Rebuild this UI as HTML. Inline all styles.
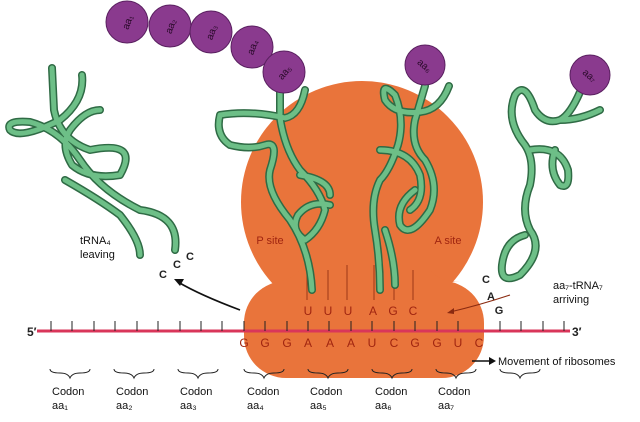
<!DOCTYPE html>
<html><head><style>
html,body{margin:0;padding:0;background:#fff;}
svg{display:block;font-family:"Liberation Sans",sans-serif;}
</style></head><body>
<svg width="640" height="422" viewBox="0 0 640 422" xmlns="http://www.w3.org/2000/svg">
<!-- ribosome -->
<g fill="#e9743b">
<circle cx="362" cy="202" r="121"/>
<rect x="244" y="281" width="240" height="97" rx="42" ry="42"/>
<path d="M270 282 Q290 282 300 270 L430 270 Q440 282 460 282 Z"/>
</g>
<!-- mRNA -->
<line x1="37" y1="331" x2="570" y2="331" stroke="#d9365a" stroke-width="3"/>
<g stroke="#222" stroke-width="1">
<path d="M51 331v-10M72 331v-10M94 331v-10M115 331v-10M137 331v-10M158 331v-10M180 331v-10M201 331v-10M222 331v-10M244 331v-10M265 331v-10M287 331v-10M308 331v-10M329 331v-10M351 331v-10M372 331v-10M394 331v-10M415 331v-10M437 331v-10M458 331v-10"/>
<path d="M500 331v-10M521 331v-10M543 331v-10M564 331v-10" />
</g>
<text x="27" y="336" font-size="12" font-weight="bold" fill="#222">5′</text>
<text x="572" y="336" font-size="12" font-weight="bold" fill="#222">3′</text>
<g stroke="#8a2a10" stroke-width="0.8">
<path d="M307 300v-30M328 300v-30M347 300v-35M374 300v-35M394 300v-30M413 300v-30"/>
</g>
<g font-size="12" fill="#a02510" text-anchor="middle">
<text x="308" y="315">U</text><text x="328" y="315">U</text><text x="348" y="315">U</text>
<text x="373" y="315">A</text><text x="393" y="315">G</text><text x="413" y="315">C</text>
<text x="244" y="347">G</text><text x="265" y="347">G</text><text x="287" y="347">G</text>
<text x="308" y="347">A</text><text x="330" y="347">A</text><text x="351" y="347">A</text>
<text x="372" y="347">U</text><text x="394" y="347">C</text><text x="415" y="347">G</text>
<text x="437" y="347">G</text><text x="458" y="347">U</text><text x="479" y="347">C</text>
<text x="270" y="244" font-size="11">P site</text>
<text x="448" y="244" font-size="11">A site</text>
</g>
<!-- tRNAs -->
<g fill="none" stroke-linecap="round" stroke-linejoin="round">
<g stroke="#2f6b45" stroke-width="8">
<path d="M52 68 L54 110 Q60 140 90 150 Q140 140 120 175 Q90 180 72 165 Q60 145 70 130 Q85 110 100 110 M82 75 Q85 100 60 120 Q20 140 10 130 Q5 120 30 122 Q60 130 80 160 Q100 190 140 210 Q180 215 175 250 M65 180 Q100 200 120 215 Q140 240 140 255"/>
<path d="M280 90 L280 118 Q285 150 300 170 Q320 190 325 210 Q320 230 305 240 Q290 230 298 215 Q310 200 330 205 M305 90 Q300 115 285 118 Q250 110 220 115 Q215 135 230 145 Q250 150 265 145 Q280 140 270 170 Q265 190 290 220 Q310 250 312 290 M300 175 Q330 180 330 195"/>
<path d="M425 86 L415 120 Q410 145 425 160 Q440 185 430 210 Q410 240 400 225 Q395 205 415 190 M449 86 Q440 110 420 112 Q395 115 385 100 Q380 80 395 95 Q405 120 398 145 Q390 170 380 180 Q370 200 375 230 Q380 260 380 290 M380 150 Q410 150 420 175 Q425 200 410 210 M385 230 Q395 260 395 285"/>
<path d="M580 92 Q570 115 560 120 Q545 125 535 110 Q525 80 515 95 Q505 120 525 145 Q535 160 530 185 Q520 210 530 230 Q545 250 520 275 Q500 285 502 265 Q505 240 525 235 M600 110 Q580 120 560 120 M530 150 Q560 145 568 170 Q570 190 560 185 Q548 170 555 150"/>
</g>
<g stroke="#6dbf87" stroke-width="5">
<path d="M52 68 L54 110 Q60 140 90 150 Q140 140 120 175 Q90 180 72 165 Q60 145 70 130 Q85 110 100 110 M82 75 Q85 100 60 120 Q20 140 10 130 Q5 120 30 122 Q60 130 80 160 Q100 190 140 210 Q180 215 175 250 M65 180 Q100 200 120 215 Q140 240 140 255"/>
<path d="M280 90 L280 118 Q285 150 300 170 Q320 190 325 210 Q320 230 305 240 Q290 230 298 215 Q310 200 330 205 M305 90 Q300 115 285 118 Q250 110 220 115 Q215 135 230 145 Q250 150 265 145 Q280 140 270 170 Q265 190 290 220 Q310 250 312 290 M300 175 Q330 180 330 195"/>
<path d="M425 86 L415 120 Q410 145 425 160 Q440 185 430 210 Q410 240 400 225 Q395 205 415 190 M449 86 Q440 110 420 112 Q395 115 385 100 Q380 80 395 95 Q405 120 398 145 Q390 170 380 180 Q370 200 375 230 Q380 260 380 290 M380 150 Q410 150 420 175 Q425 200 410 210 M385 230 Q395 260 395 285"/>
<path d="M580 92 Q570 115 560 120 Q545 125 535 110 Q525 80 515 95 Q505 120 525 145 Q535 160 530 185 Q520 210 530 230 Q545 250 520 275 Q500 285 502 265 Q505 240 525 235 M600 110 Q580 120 560 120 M530 150 Q560 145 568 170 Q570 190 560 185 Q548 170 555 150"/>
</g>
</g>
<!-- amino acids -->
<g fill="#8a3a8e" stroke="#5a2060" stroke-width="1">
<circle cx="127" cy="22" r="21"/><circle cx="170" cy="26" r="21"/><circle cx="211" cy="32" r="21"/>
<circle cx="252" cy="47" r="21"/><circle cx="284" cy="72" r="21"/><circle cx="425" cy="65" r="20"/><circle cx="590" cy="75" r="20"/>
</g>
<g font-size="10" fill="#2a0a2a" text-anchor="middle">
<text x="127" y="26" transform="rotate(-70 127 22)">aa₁</text>
<text x="170" y="30" transform="rotate(-70 170 26)">aa₂</text>
<text x="211" y="36" transform="rotate(-70 211 32)">aa₃</text>
<text x="252" y="51" transform="rotate(-70 252 47)">aa₄</text>
<text x="284" y="76" transform="rotate(-50 284 72)">aa₅</text>
<text x="425" y="69" transform="rotate(40 425 65)">aa₆</text>
<text x="590" y="79" transform="rotate(40 590 75)">aa₇</text>
</g>
<g font-size="11" font-weight="bold" fill="#222" text-anchor="middle">
<text x="163" y="278">C</text><text x="177" y="268">C</text><text x="190" y="260">C</text>
<text x="486" y="283">C</text><text x="491" y="300">A</text><text x="499" y="314">G</text>
</g>
<path d="M240 310 Q200 295 178 282" fill="none" stroke="#111" stroke-width="1.6"/>
<path d="M174 279 l10 0 l-4 7 z" fill="#111"/>
<path d="M510 295 Q480 305 450 312" fill="none" stroke="#8a2a10" stroke-width="1"/>
<path d="M447 313 l7 -5 l0 6 z" fill="#8a2a10"/>
<line x1="472" y1="361" x2="492" y2="361" stroke="#111" stroke-width="1.5"/>
<path d="M496 361 l-7 -4 l0 8 z" fill="#111"/>
<text x="498" y="365" font-size="11" fill="#111">Movement of ribosomes</text>
<text x="80" y="244" font-size="11" fill="#111">tRNA₄</text>
<text x="80" y="258" font-size="11" fill="#111">leaving</text>
<text x="553" y="289" font-size="11" fill="#111">aa₇-tRNA₇</text>
<text x="553" y="303" font-size="11" fill="#111">arriving</text>
<g fill="none" stroke="#222" stroke-width="1">
<path d="M50 369 q0 4 10 4 q8 0 10 5 q2 -5 10 -5 q10 0 10 -4"/>
<path d="M114 369 q0 4 10 4 q8 0 10 5 q2 -5 10 -5 q10 0 10 -4"/>
<path d="M178 369 q0 4 10 4 q8 0 10 5 q2 -5 10 -5 q10 0 10 -4"/>
<path d="M244 369 q0 4 10 4 q8 0 10 5 q2 -5 10 -5 q10 0 10 -4"/>
<path d="M308 369 q0 4 10 4 q8 0 10 5 q2 -5 10 -5 q10 0 10 -4"/>
<path d="M372 369 q0 4 10 4 q8 0 10 5 q2 -5 10 -5 q10 0 10 -4"/>
<path d="M436 369 q0 4 10 4 q8 0 10 5 q2 -5 10 -5 q10 0 10 -4"/>
<path d="M500 369 q0 4 10 4 q8 0 10 5 q2 -5 10 -5 q10 0 10 -4"/>
</g>
<g font-size="11" fill="#111">
<text x="52" y="395">Codon</text><text x="52" y="409">aa₁</text>
<text x="116" y="395">Codon</text><text x="116" y="409">aa₂</text>
<text x="180" y="395">Codon</text><text x="180" y="409">aa₃</text>
<text x="247" y="395">Codon</text><text x="247" y="409">aa₄</text>
<text x="310" y="395">Codon</text><text x="310" y="409">aa₅</text>
<text x="375" y="395">Codon</text><text x="375" y="409">aa₆</text>
<text x="438" y="395">Codon</text><text x="438" y="409">aa₇</text>
</g>
</svg>
</body></html>
